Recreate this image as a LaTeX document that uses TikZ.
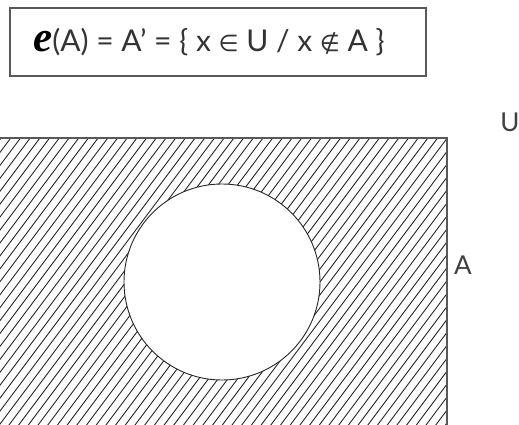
\documentclass[tikz,border=0pt]{standalone}
\usepackage{fontspec}
\setmainfont{Lato}
\newfontfamily\simbolo{DejaVu Sans}
\newfontfamily\escrita{Liberation Serif}
\usetikzlibrary{positioning}

\begin{document}
\begin{tikzpicture}[
    x=1pt, y=1pt,
    borda/.style={draw=black!65, line width=1.3pt},
    hachura/.style={black!85, line width=0.9pt},
    contorno/.style={draw=black!85, line width=0.9pt},
    rotulo/.style={font=\fontsize{26}{30}\selectfont, text=black!75, inner sep=0pt}
]
    \def\raio{98}
    \def\passo{9.7}
    \useasboundingbox (0,0) rectangle (519,424);

    % --- FORMULA ---
    \node[borda, minimum width=416pt, minimum height=68pt] (caixa) at (218,382) {};
    \node[font=\fontsize{30}{36}\selectfont, text=black!80, inner sep=0pt] (formula) at (209,382)
          {{\escrita\bfseries\itshape\fontsize{43}{43}\selectfont\color{black} e}(A) = A' = \{ x {\simbolo\fontsize{23}{30}\selectfont ∈} U / x {\simbolo\fontsize{23}{30}\selectfont ∉} A \}};

    % --- UNIVERSO E CONJUNTO A ---
    \coordinate (u0) at (-5,-5);
    \coordinate (u1) at (447,286);
    \coordinate (centro) at (222,142);
    \begin{scope}[even odd rule]
        \clip (u0) rectangle (u1) (centro) circle (\raio);
        \foreach \i in {-24,...,48}
            \draw[hachura] ({\i*\passo-225},-300) -- ({\i*\passo+225},300);
    \end{scope}
    \draw[borda] (u0) rectangle (u1);
    \node[circle, contorno, minimum size=2*\raio pt, inner sep=0pt] (conjA) at (centro) {};

    % --- ROTULOS ---
    \node[rotulo] (rotU) at (510,302) {U};
    \node[rotulo] (rotA) at (463,159) {A};
\end{tikzpicture}
\end{document}
